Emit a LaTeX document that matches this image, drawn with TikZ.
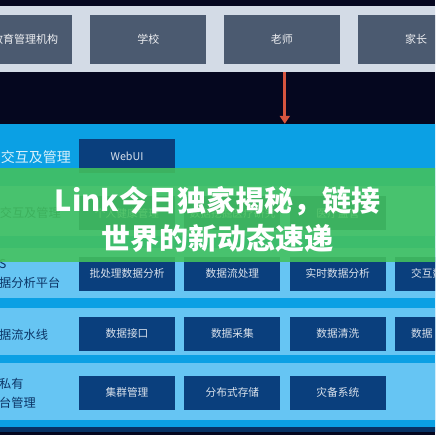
\documentclass[tikz,border=0pt]{standalone}
\usepackage{fontspec}
\setmainfont{Noto Sans CJK SC}
\usetikzlibrary{positioning,arrows.meta}
\definecolor{night}{HTML}{05071F}
\definecolor{haze}{HTML}{D3DBE6}
\definecolor{slate}{HTML}{4B5A70}
\definecolor{sky}{HTML}{0BA0E4}
\definecolor{pale}{HTML}{66C5F3}
\definecolor{deep}{HTML}{0A3F7D}
\definecolor{ink}{HTML}{0C3566}
\definecolor{leaf}{HTML}{44C25C}
\definecolor{rust}{HTML}{D6553F}
\begin{document}
\begin{tikzpicture}[x=1pt, y=-1pt, node distance=9pt,
    top/.style = {fill=slate, text=white!90!slate, minimum width=116pt, minimum height=49pt, inner sep=0pt, font=\fontsize{11}{13}\selectfont},
    box/.style = {fill=deep, text=white!85!deep, minimum width=96pt, minimum height=34pt, inner sep=0pt, font=\fontsize{10.7}{13}\selectfont},
    cut/.style = {text width=64pt, align=left},
    tag/.style = {text=ink, anchor=west, align=left, inner sep=0pt, font=\fontsize{12.2}{19}\selectfont}]
      \useasboundingbox (0,0) rectangle (435,435);
      \clip (0,0) rectangle (435,435);
      \fill[night] (0,0) rectangle (435,435);
      \node[fill=haze, minimum width=437pt, minimum height=66pt, inner sep=0pt] (strip) at (217.5,39) {};
      \node[top, minimum width=94pt] (org) at (25,39.5) {教育管理机构};
      \node[top] (school) [right=18pt of org] {学校};
      \node[top] (teacher) [right=17pt of school] {老师};
      \node[top] (parent) [right=18pt of teacher] {家长};
      \node[fill=sky, minimum width=437pt, minimum height=303pt, inner sep=0pt] (panel) at (217.5,275.5) {};
      \foreach \a/\b in {186/236, 248/298, 308/355, 363/420}
        \fill[pale] (-1,\a) rectangle (436,\b);
      \fill[deep!80!black] (-1,427) rectangle (436,432);
      \draw[rust, line width=3.2pt, -{Triangle[width=10pt,length=8pt]}] ([xshift=3pt]teacher.south |- strip.south) -- ([xshift=3pt]teacher.south |- panel.north);
      \node[box] (webui) at (127,156.5) {WebUI};
      \node[box] (care) at (127,213) {个人健康管理};
      \node[box] (mining) [right=of care] {数据挖掘医疗研究};
      \node[box] (supervise) [right=of mining] {医疗监管};
      \node[box] (batch) at (127,273.5) {批处理数据分析};
      \node[box] (stream) [right=of batch] {数据流处理};
      \node[box] (realtime) [right=of stream] {实时数据分析};
      \node[box, cut] (interact) [right=of realtime] {交互数};
      \node[box] (port) at (127,333.5) {数据接口};
      \node[box] (collect) [right=of port] {数据采集};
      \node[box] (clean) [right=of collect] {数据清洗};
      \node[box, cut] (more) [right=of clean] {数据};
      \node[box] (cluster) at (127,392.5) {集群管理};
      \node[box] (storage) [right=of cluster] {分布式存储};
      \node[box] (backup) [right=of storage] {灾备系统};
      \node[tag, anchor=east, text=white!85!sky, font=\fontsize{14}{16}\selectfont] (ui) at (71,157) {交互及管理};
      \node[tag, anchor=east] (app) at (61,213) {交互及管理};
      \node[tag] (paas) at (-1,274) {S\\据分析平台};
      \node[tag] (pipe) at (-1,335) {据流水线};
      \node[tag] (iaas) at (-1,393) {私有\\台管理};
      \fill[leaf, opacity=0.88] (-1,168) rectangle (436,262);
      \node[text=white, align=center, font=\bfseries\fontsize{29}{38}\selectfont] (banner) at (217.5,219) {Link今日独家揭秘，链接\\世界的新动态速递};
    \end{tikzpicture}
\end{document}
